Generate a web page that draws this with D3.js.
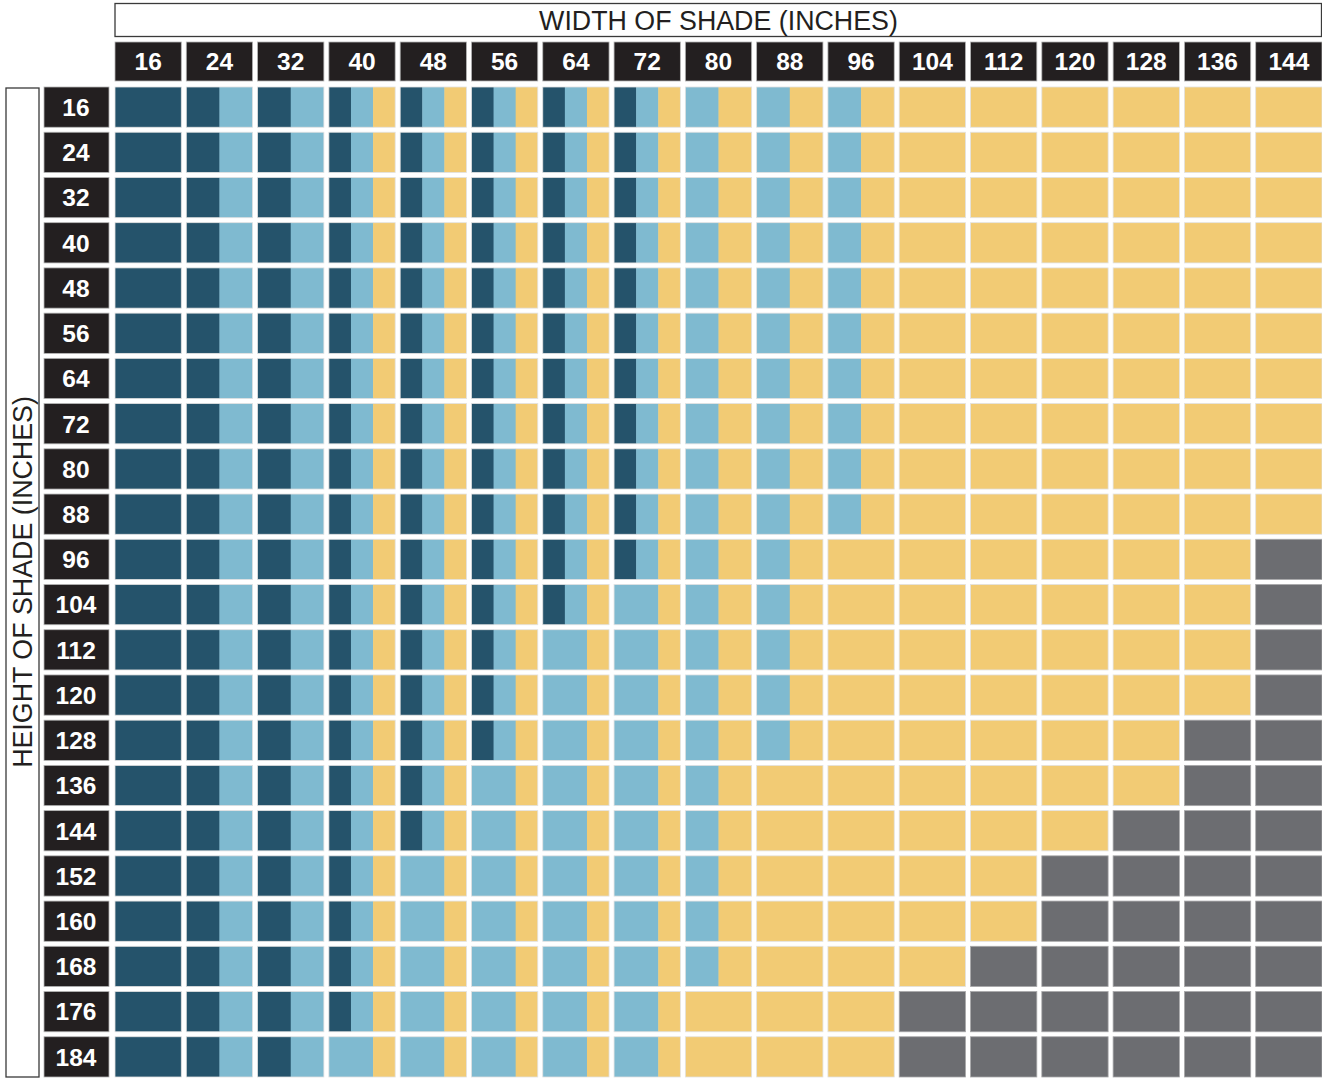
<!DOCTYPE html>
<html>
<head>
<meta charset="utf-8">
<script src="https://cdn.jsdelivr.net/npm/d3@7"></script>
<style>
  html, body { margin: 0; padding: 0; background: #fff; }
  svg { display: block; }
</style>
</head>
<body>
<svg id="chart" width="1322" height="1078"></svg>
<script>
// ---- Data ----
const widths = [16, 24, 32, 40, 48, 56, 64, 72, 80, 88, 96, 104, 112, 120, 128, 136, 144];
const heights = [16, 24, 32, 40, 48, 56, 64, 72, 80, 88, 96, 104, 112, 120, 128, 136, 144, 152, 160, 168, 176, 184];
const xTitle = "WIDTH OF SHADE (INCHES)";
const yTitle = "HEIGHT OF SHADE (INCHES)";
// Each cell: string of equal-width segments. D = dark blue, L = light blue, Y = yellow, G = gray (not available)
const rowCodes = [
  ["D","DL","DL","DLY","DLY","DLY","DLY","DLY","LY","LY","LY","Y","Y","Y","Y","Y","Y"], // 16
  ["D","DL","DL","DLY","DLY","DLY","DLY","DLY","LY","LY","LY","Y","Y","Y","Y","Y","Y"], // 24
  ["D","DL","DL","DLY","DLY","DLY","DLY","DLY","LY","LY","LY","Y","Y","Y","Y","Y","Y"], // 32
  ["D","DL","DL","DLY","DLY","DLY","DLY","DLY","LY","LY","LY","Y","Y","Y","Y","Y","Y"], // 40
  ["D","DL","DL","DLY","DLY","DLY","DLY","DLY","LY","LY","LY","Y","Y","Y","Y","Y","Y"], // 48
  ["D","DL","DL","DLY","DLY","DLY","DLY","DLY","LY","LY","LY","Y","Y","Y","Y","Y","Y"], // 56
  ["D","DL","DL","DLY","DLY","DLY","DLY","DLY","LY","LY","LY","Y","Y","Y","Y","Y","Y"], // 64
  ["D","DL","DL","DLY","DLY","DLY","DLY","DLY","LY","LY","LY","Y","Y","Y","Y","Y","Y"], // 72
  ["D","DL","DL","DLY","DLY","DLY","DLY","DLY","LY","LY","LY","Y","Y","Y","Y","Y","Y"], // 80
  ["D","DL","DL","DLY","DLY","DLY","DLY","DLY","LY","LY","LY","Y","Y","Y","Y","Y","Y"], // 88
  ["D","DL","DL","DLY","DLY","DLY","DLY","DLY","LY","LY","Y","Y","Y","Y","Y","Y","G"],  // 96
  ["D","DL","DL","DLY","DLY","DLY","DLY","LLY","LY","LY","Y","Y","Y","Y","Y","Y","G"],  // 104
  ["D","DL","DL","DLY","DLY","DLY","LLY","LLY","LY","LY","Y","Y","Y","Y","Y","Y","G"],  // 112
  ["D","DL","DL","DLY","DLY","DLY","LLY","LLY","LY","LY","Y","Y","Y","Y","Y","Y","G"],  // 120
  ["D","DL","DL","DLY","DLY","DLY","LLY","LLY","LY","LY","Y","Y","Y","Y","Y","G","G"],  // 128
  ["D","DL","DL","DLY","DLY","LLY","LLY","LLY","LY","Y","Y","Y","Y","Y","Y","G","G"],   // 136
  ["D","DL","DL","DLY","DLY","LLY","LLY","LLY","LY","Y","Y","Y","Y","Y","G","G","G"],   // 144
  ["D","DL","DL","DLY","LLY","LLY","LLY","LLY","LY","Y","Y","Y","Y","G","G","G","G"],   // 152
  ["D","DL","DL","DLY","LLY","LLY","LLY","LLY","LY","Y","Y","Y","Y","G","G","G","G"],   // 160
  ["D","DL","DL","DLY","LLY","LLY","LLY","LLY","LY","Y","Y","Y","G","G","G","G","G"],   // 168
  ["D","DL","DL","DLY","LLY","LLY","LLY","LLY","Y","Y","Y","G","G","G","G","G","G"],    // 176
  ["D","DL","DL","LLY","LLY","LLY","LLY","LLY","Y","Y","Y","G","G","G","G","G","G"]     // 184
];
const colorKeys = ["D", "L", "Y", "G"];
const colorValues = ["#25536b", "#7fbad0", "#f2cb74", "#6c6d71"];

// ---- Drawing ----
const svg = d3.select("#chart");
const font = "'Liberation Sans', Arial, Helvetica, sans-serif";
const color = d3.scaleOrdinal().domain(colorKeys).range(colorValues);

const x = d3.scaleBand().domain(widths).range([115, 1322]).paddingInner(0.07).paddingOuter(0);
const y = d3.scaleBand().domain(heights).range([87, 1077]).paddingInner(0.11).paddingOuter(0);

// Title boxes
svg.append("rect").attr("x", 115).attr("y", 3.5).attr("width", 1206.5).attr("height", 33)
  .attr("fill", "#fff").attr("stroke", "#3a3a3a").attr("stroke-width", 1.3);
svg.append("text").attr("x", (115 + 1322) / 2).attr("y", 29.5)
  .attr("text-anchor", "middle").attr("font-family", font).attr("font-size", 26.8)
  .attr("fill", "#231f20").text(xTitle);

svg.append("rect").attr("x", 6).attr("y", 88).attr("width", 33).attr("height", 989)
  .attr("fill", "#fff").attr("stroke", "#3a3a3a").attr("stroke-width", 1.3);
svg.append("text").attr("transform", `translate(32,${(87 + 1077) / 2}) rotate(-90)`)
  .attr("text-anchor", "middle").attr("font-family", font).attr("font-size", 26.8)
  .attr("fill", "#231f20").text(yTitle);

// Column header labels
const colHead = svg.append("g").selectAll("g").data(widths).join("g")
  .attr("transform", d => `translate(${x(d)},42)`);
colHead.append("rect").attr("width", x.bandwidth()).attr("height", 39)
  .attr("fill", "#231f20").attr("stroke", "#b5b5b5").attr("stroke-width", 0.8);
colHead.append("text").attr("x", x.bandwidth() / 2).attr("y", 28)
  .attr("text-anchor", "middle").attr("font-family", font).attr("font-weight", "bold")
  .attr("font-size", 24.5).attr("fill", "#fff").text(d => d);

// Row labels
const rowHead = svg.append("g").selectAll("g").data(heights).join("g")
  .attr("transform", d => `translate(44,${y(d)})`);
rowHead.append("rect").attr("width", 65).attr("height", y.bandwidth())
  .attr("fill", "#231f20").attr("stroke", "#b5b5b5").attr("stroke-width", 0.8);
rowHead.append("text").attr("x", 32).attr("y", y.bandwidth() / 2 + 8.8)
  .attr("text-anchor", "middle").attr("font-family", font).attr("font-weight", "bold")
  .attr("font-size", 24.5).attr("fill", "#fff").text(d => d);

// Cells
const cells = [];
heights.forEach((h, i) => {
  widths.forEach((w, j) => {
    cells.push({ h, w, code: rowCodes[i][j] });
  });
});

// merge consecutive equal segments into runs
function runs(code) {
  const out = [];
  code.split("").forEach((c, k) => {
    const last = out[out.length - 1];
    if (last && last.c === c) last.n += 1;
    else out.push({ c, start: k, n: 1 });
  });
  return out;
}

const cellG = svg.append("g").selectAll("g").data(cells).join("g")
  .attr("transform", d => `translate(${x(d.w)},${y(d.h)})`);

cellG.each(function(d) {
  const n = d.code.length;
  const sx = d3.scaleLinear().domain([0, n]).range([0, x.bandwidth()]);
  const r = runs(d.code);
  d3.select(this).selectAll("rect.seg").data(r).join("rect")
    .attr("class", "seg")
    .attr("x", s => sx(s.start))
    .attr("y", 0)
    .attr("width", (s, k) => sx(s.start + s.n) - sx(s.start) + (k < r.length - 1 ? 0.4 : 0))
    .attr("height", y.bandwidth())
    .attr("fill", s => color(s.c));
});
cellG.append("rect")
  .attr("width", x.bandwidth()).attr("height", y.bandwidth())
  .attr("fill", "none")
  .attr("stroke", d => d.code === "G" ? "#a8a8aa" : "#e2e2e2")
  .attr("stroke-width", 0.8);
</script>
</body>
</html>
